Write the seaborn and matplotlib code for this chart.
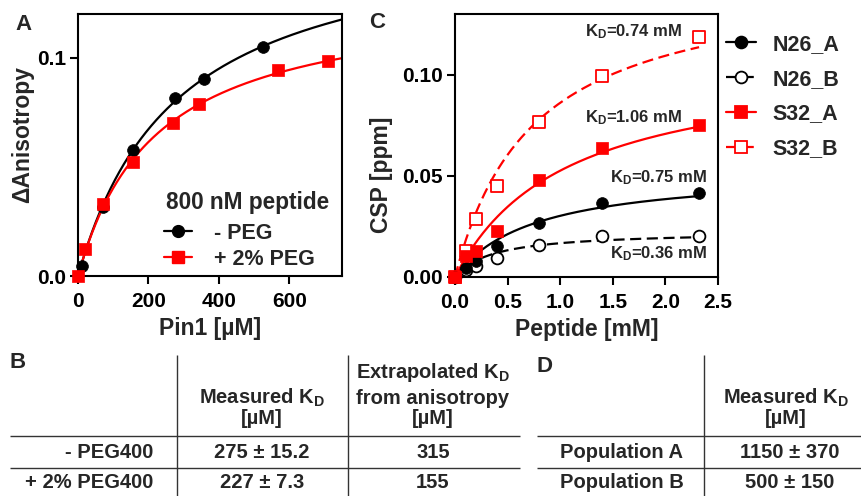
import numpy as np
import pandas as pd
import matplotlib
matplotlib.use("Agg")
import matplotlib.pyplot as plt
from matplotlib.lines import Line2D
import seaborn as sns

# ---------------- data ----------------
# Panel A: anisotropy titration
pin1_noPEG = [10, 70, 157, 276, 357, 526]
aniso_noPEG = [0.0048, 0.0317, 0.0576, 0.0815, 0.0904, 0.1047]
pin1_PEG = [0, 20, 71, 155, 270, 345, 569, 710]
aniso_PEG = [0.0, 0.0125, 0.0328, 0.0520, 0.0700, 0.0786, 0.0942, 0.0983]
legendA_title = "800 nM peptide"
labelsA = ["- PEG", "+ 2% PEG"]
xticksA = [0, 200, 400, 600]
yticksA = [0.0, 0.1]

# Panel C: CSP titration
peptide_mM = [0, 0.1, 0.2, 0.4, 0.8, 1.4, 2.32]
csp_N26_A = [0, 0.0045, 0.0080, 0.0152, 0.0267, 0.0365, 0.0413]
csp_N26_B = [0, 0.0033, 0.0056, 0.0096, 0.0160, 0.0205, 0.0201]
csp_S32_A = [0, 0.0105, 0.0130, 0.0228, 0.0477, 0.0640, 0.0752]
csp_S32_B = [0, 0.0130, 0.0286, 0.0449, 0.0767, 0.0993, 0.1185]
seriesC = ["N26_A", "N26_B", "S32_A", "S32_B"]
kd_C = [0.75, 0.36, 1.06, 0.74]
kd_labels = ["K$_\\mathrm{D}$=0.75 mM", "K$_\\mathrm{D}$=0.36 mM",
             "K$_\\mathrm{D}$=1.06 mM", "K$_\\mathrm{D}$=0.74 mM"]
xticksC = [0.0, 0.5, 1.0, 1.5, 2.0, 2.5]
yticksC = [0.00, 0.05, 0.10]

# Table B
tableB_rows = ["- PEG400", "+ 2% PEG400"]
tableB_measured = ["275 ± 15.2", "227 ± 7.3"]
tableB_extrap = ["315", "155"]
# Table D
tableD_rows = ["Population A", "Population B"]
tableD_measured = ["1150 ± 370", "500 ± 150"]

# ---------------- style ----------------
sns.set_theme(style="ticks")
FONT = "Liberation Sans"
plt.rcParams["font.family"] = [FONT, "DejaVu Sans"]
plt.rcParams["font.weight"] = "bold"
plt.rcParams["axes.labelweight"] = "bold"
plt.rcParams["mathtext.fontset"] = "custom"
plt.rcParams["mathtext.rm"] = FONT + ":bold"
plt.rcParams["mathtext.it"] = FONT + ":bold"
plt.rcParams["mathtext.bf"] = FONT + ":bold"

RED = "#ff0000"
BLK = "#000000"

fig = plt.figure(figsize=(8.62, 4.96), dpi=100)
W, H = 862, 496


def px_axes(l, t, r, b):
    return fig.add_axes([l / W, 1 - b / H, (r - l) / W, (b - t) / H])


def hyper(x, kd, bmax):
    x = np.asarray(x, float)
    return bmax * x / (kd + x)


def fit_bmax(x, y, kd):
    f = hyper(x, kd, 1.0)
    y = np.asarray(y, float)
    return float((f * y).sum() / (f * f).sum())


def fit_kd(x, y):
    best = None
    for kd in np.linspace(20, 1500, 2961):
        b = fit_bmax(x, y, kd)
        err = ((hyper(x, kd, b) - np.asarray(y)) ** 2).sum()
        if best is None or err < best[0]:
            best = (err, kd, b)
    return best[1], best[2]


def style_axes(ax):
    for s in ax.spines.values():
        s.set_linewidth(1.5)
        s.set_color("black")
    ax.tick_params(direction="out", length=6, width=1.5, labelsize=15,
                   colors="black")
    ax.tick_params(axis="y", pad=2.5)
    ax.tick_params(axis="x", pad=5.5)
    for lab in ax.get_xticklabels() + ax.get_yticklabels():
        lab.set_fontweight("bold")


# ---------------- Panel A ----------------
axA = px_axes(78, 14, 342, 276)
xA_fine = np.linspace(0, 750, 300)
kdA1, bA1 = fit_kd(pin1_noPEG, aniso_noPEG)
kdA2, bA2 = fit_kd(pin1_PEG, aniso_PEG)
curvesA = pd.DataFrame({
    "x": np.concatenate([xA_fine, xA_fine]),
    "y": np.concatenate([hyper(xA_fine, kdA1, bA1), hyper(xA_fine, kdA2, bA2)]),
    "s": [labelsA[0]] * len(xA_fine) + [labelsA[1]] * len(xA_fine),
})
sns.lineplot(data=curvesA, x="x", y="y", hue="s", palette=[BLK, RED],
             linewidth=1.6, legend=False, ax=axA)
sns.scatterplot(x=pin1_noPEG, y=aniso_noPEG, color=BLK, marker="o", s=72,
                edgecolor=BLK, linewidth=0.5, ax=axA, zorder=4, clip_on=False)
sns.scatterplot(x=pin1_PEG, y=aniso_PEG, color=RED, marker="s", s=85,
                edgecolor=RED, linewidth=0.5, ax=axA, zorder=5, clip_on=False)
axA.set_xlim(0, 750)
axA.set_ylim(0, 0.12)
axA.set_xticks(xticksA)
axA.set_yticks(yticksA)
axA.set_yticklabels([f"{v:.1f}" for v in yticksA])
axA.set_xlabel("Pin1 [µM]", fontsize=16.5, fontweight="bold", labelpad=4)
axA.set_ylabel("ΔAnisotropy", fontsize=16.5, fontweight="bold")
axA.yaxis.set_label_coords(-0.165, 0.54)
style_axes(axA)

handlesA = [
    Line2D([], [], color=BLK, lw=1.6, marker="o", markersize=8.5),
    Line2D([], [], color=RED, lw=1.6, marker="s", markersize=9),
]
axA.legend(handles=handlesA, labels=labelsA,
           loc="upper left", bbox_to_anchor=(164 / W, 1 - 223 / H),
           bbox_transform=fig.transFigure, frameon=False,
           prop={"size": 15.5, "weight": "bold"},
           handlelength=1.3, handletextpad=1.0, labelspacing=0.22,
           borderpad=0, borderaxespad=0)
fig.text(166 / W, 1 - 203 / H, legendA_title, ha="left", va="center",
         fontsize=16.3, fontweight="bold")

# ---------------- Panel C ----------------
axC = px_axes(455, 14, 718, 277)
seriesC_vals = [csp_N26_A, csp_N26_B, csp_S32_A, csp_S32_B]
colorsC = [BLK, BLK, RED, RED]
markersC = ["o", "o", "s", "s"]
filledC = [True, False, True, False]
dashC = [None, (5, 2.5), None, (5, 2.5)]
xC_fine = np.linspace(0, max(peptide_mM), 200)
for name, vals, kd, col, mk, filled, dsh in zip(seriesC, seriesC_vals, kd_C,
                                                 colorsC, markersC, filledC, dashC):
    b = fit_bmax(peptide_mM, vals, kd)
    dfc = pd.DataFrame({"x": xC_fine, "y": hyper(xC_fine, kd, b)})
    line_ax = sns.lineplot(data=dfc, x="x", y="y", color=col, linewidth=1.6,
                           ax=axC, legend=False)
    if dsh is not None:
        line_ax.lines[-1].set_dashes(dsh)
    sns.scatterplot(x=peptide_mM, y=vals, marker=mk,
                    s=72 if mk == "o" else 85,
                    color=col if filled else "white",
                    edgecolor=col, linewidth=0.5 if filled else 1.3,
                    ax=axC, zorder=5 if filled else 4, clip_on=False)

# K_D annotations (order of seriesC)
ann_pos = [(2.40, 0.0489), (2.40, 0.0117), (2.16, 0.0786), (2.16, 0.1211)]
for (ax_, ay_), txt in zip(ann_pos, kd_labels):
    axC.text(ax_, ay_, txt, ha="right", va="center", fontsize=12,
             fontweight="bold")

axC.set_xlim(0, 2.5)
axC.set_ylim(0, 0.13)
axC.set_xticks(xticksC)
axC.set_xticklabels([f"{v:.1f}" for v in xticksC])
axC.set_yticks(yticksC)
axC.set_yticklabels([f"{v:.2f}" for v in yticksC])
axC.set_xlabel("Peptide [mM]", fontsize=16.5, fontweight="bold", labelpad=4)
axC.set_ylabel("CSP [ppm]", fontsize=16.5, fontweight="bold")
axC.yaxis.set_label_coords(-0.236, 0.39)
style_axes(axC)

handlesC = []
for col, mk, filled, dsh in zip(colorsC, markersC, filledC, dashC):
    h = Line2D([], [], color=col, lw=1.6, marker=mk,
               markersize=8.5 if mk == "o" else 9,
               markerfacecolor=col if filled else "white",
               markeredgecolor=col, markeredgewidth=1.3,
               linestyle="-" if dsh is None else (0, dsh))
    handlesC.append(h)
fig.legend(handles=handlesC, labels=seriesC, loc="upper left",
           bbox_to_anchor=(726 / W, 1 - 34 / H), frameon=False,
           prop={"size": 15.5, "weight": "bold"}, handlelength=1.4,
           handletextpad=0.75, labelspacing=0.64, borderpad=0,
           borderaxespad=0)

# ---------------- panel letters & tables ----------------
ov = fig.add_axes([0, 0, 1, 1])
ov.set_xlim(0, W)
ov.set_ylim(H, 0)
ov.axis("off")

for lx, ly, letter in [(24, 24, "A"), (377, 23, "C"), (18, 363, "B"), (545, 366, "D")]:
    ov.text(lx, ly, letter, ha="center", va="center", fontsize=16,
            fontweight="bold")

tfs = 14.5
# Table B
ov.vlines([177, 348], 355, 496, color="#333333", lw=1.0)
ov.hlines([436, 468], 10, 520, color="#333333", lw=1.0)
ov.text(262, 398, "Measured K$_\\mathrm{D}$", ha="center", va="center", fontsize=tfs)
ov.text(262, 419, "[µM]", ha="center", va="center", fontsize=tfs)
ov.text(433, 373, "Extrapolated K$_\\mathrm{D}$", ha="center", va="center", fontsize=tfs)
ov.text(433, 398, "from anisotropy", ha="center", va="center", fontsize=tfs)
ov.text(433, 419, "[µM]", ha="center", va="center", fontsize=tfs)
for yy, r, m, e in zip([452, 483], tableB_rows, tableB_measured, tableB_extrap):
    ov.text(153, yy, r, ha="right", va="center", fontsize=tfs)
    ov.text(262, yy, m, ha="center", va="center", fontsize=tfs)
    ov.text(433, yy, e, ha="center", va="center", fontsize=tfs)

# Table D
ov.vlines([704], 355, 496, color="#333333", lw=1.0)
ov.hlines([436, 468], 537, 862, color="#333333", lw=1.0)
ov.text(786, 398, "Measured K$_\\mathrm{D}$", ha="center", va="center", fontsize=tfs)
ov.text(786, 419, "[µM]", ha="center", va="center", fontsize=tfs)
for yy, r, m in zip([452, 483], tableD_rows, tableD_measured):
    ov.text(622, yy, r, ha="center", va="center", fontsize=tfs)
    ov.text(790, yy, m, ha="center", va="center", fontsize=tfs)

fig.savefig("out.png", dpi=100, facecolor="white")
